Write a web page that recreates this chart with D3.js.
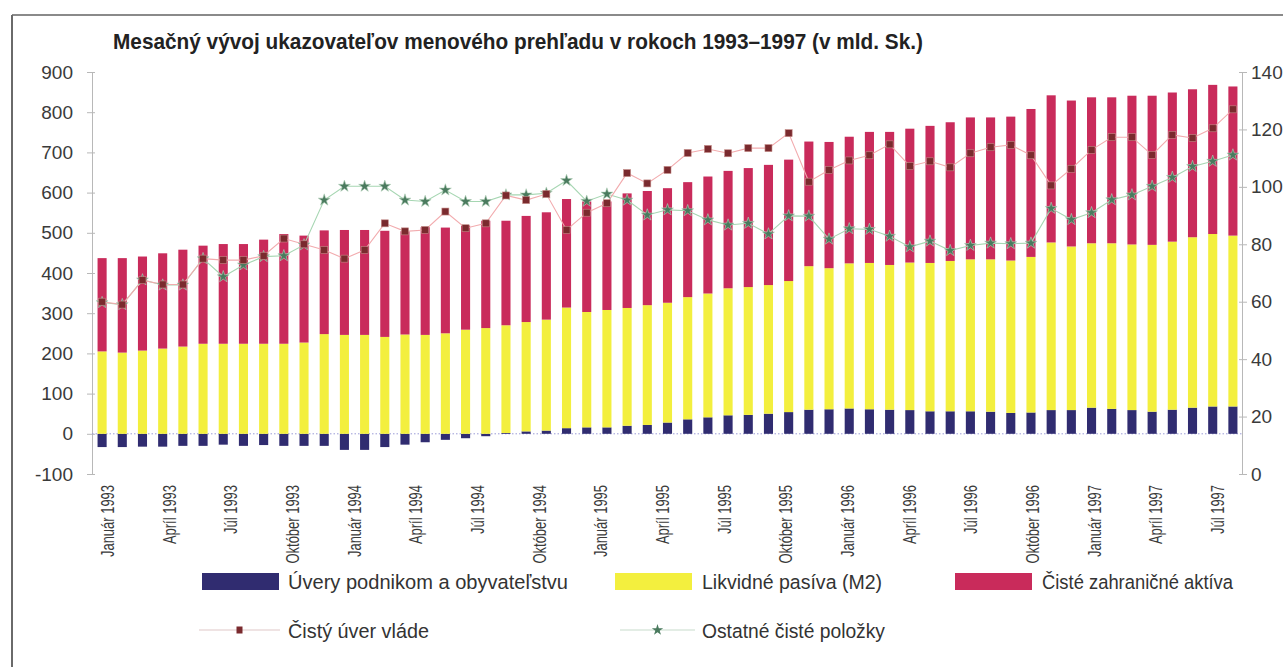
<!DOCTYPE html>
<html><head><meta charset="utf-8">
<script src="https://cdn.jsdelivr.net/npm/d3@7"></script>
<style>
body{margin:0;background:#fff}
svg{display:block}
text{font-family:"Liberation Sans",Arial,Helvetica,sans-serif;fill:#333}
</style>
</head><body>
<svg id="chart" width="1283" height="667"></svg>
<script>
// ---------- data ----------
const months = [
 "1/1993","2/1993","3/1993","4/1993","5/1993","6/1993","7/1993","8/1993","9/1993","10/1993","11/1993","12/1993",
 "1/1994","2/1994","3/1994","4/1994","5/1994","6/1994","7/1994","8/1994","9/1994","10/1994","11/1994","12/1994",
 "1/1995","2/1995","3/1995","4/1995","5/1995","6/1995","7/1995","8/1995","9/1995","10/1995","11/1995","12/1995",
 "1/1996","2/1996","3/1996","4/1996","5/1996","6/1996","7/1996","8/1996","9/1996","10/1996","11/1996","12/1996",
 "1/1997","2/1997","3/1997","4/1997","5/1997","6/1997","7/1997","8/1997","9/1997"
];
const tickLabels = [
 "Január 1993","Apríl 1993","Júl 1993","Október 1993",
 "Január 1994","Apríl 1994","Júl 1994","Október 1994",
 "Január 1995","Apríl 1995","Júl 1995","Október 1995",
 "Január 1996","Apríl 1996","Júl 1996","Október 1996",
 "Január 1997","Apríl 1997","Júl 1997"
];
const leftTicks = [-100,0,100,200,300,400,500,600,700,800,900];
const rightTicks = [0,20,40,60,80,100,120,140];

// Úvery podnikom a obyvateľstvu
const uvery = [-33,-33,-32,-32,-30,-30,-27,-30,-28,-30,-30,-30,
 -40,-40,-33,-27,-21,-15,-11,-6,2,6,8,14,
 16,16,20,22,28,36,41,46,47,50,54,60,
 61,63,61,60,59,56,56,56,55,52,53,59,
 59,65,62,59,55,60,65,68,68];
// Likvidné pasíva (M2)
const likvidne = [205,202,207,212,217,224,224,224,224,224,227,248,
 246,246,241,247,246,250,259,263,268,272,276,300,
 287,292,293,298,298,304,308,316,318,320,326,357,
 351,361,364,360,367,369,374,378,379,379,387,417,
 407,409,412,412,415,418,424,429,425];
// Čisté zahraničné aktíva
const ciste = [232,235,234,237,241,244,248,248,259,273,266,258,
 261,261,264,257,268,263,259,267,260,264,267,270,
 275,270,285,284,285,286,291,292,296,299,302,310,
 314,315,326,331,333,341,345,353,353,358,368,366,
 363,363,363,370,371,371,368,371,371];
// Čistý úver vláde (right axis)
const uverVlade = [60,59,67.5,66,66,75,74.5,74.5,76,82,80,78,
 75,78,87.3,84.5,85,91.4,85.6,87.3,97,95.4,97.5,85,
 91,94.3,104.8,101.2,105.9,111.8,113.2,111.7,113.5,113.5,118.7,101.8,
 105.9,109.2,111,114.8,107.2,108.9,106.8,111.7,113.8,114.6,111,100.5,
 106.3,112.9,117.3,117.3,111.1,118.1,117,120.4,127];
// Ostatné čisté položky (right axis)
const ostatne = [59.7,59,67.6,65.8,65.8,75,68.7,72.8,75.7,76,79.8,95.4,
 100.2,100.2,100.2,95.4,94.9,98.9,94.9,94.9,97.2,97.2,97.8,102.2,
 95,97.5,95.4,90.2,92,91.7,88.5,86.7,87.3,83.6,89.9,89.8,
 81.8,85.4,85.2,82.8,79.1,81.1,77.8,79.6,80.4,80.2,80.4,92.5,
 88.6,91,95.5,97.2,100.2,103.3,107.1,108.9,111.1];

const barKeys = ["uvery","likvidne","ciste"];
const barColors = {uvery:"#302c70", likvidne:"#f3ef3e", ciste:"#c92b5b"};
const legendBars = [
 {key:"uvery", label:"Úvery podnikom a obyvateľstvu"},
 {key:"likvidne", label:"Likvidné pasíva (M2)"},
 {key:"ciste", label:"Čisté zahraničné aktíva"}
];
const legendLines = [
 {key:"vlada", label:"Čistý úver vláde"},
 {key:"ost", label:"Ostatné čisté položky"}
];
const titleText = "Mesačný vývoj ukazovateľov menového prehľadu v rokoch 1993–1997 (v mld. Sk.)";

// ---------- build ----------
const rows = months.map((m,i)=>({month:m, uvery:uvery[i], likvidne:likvidne[i], ciste:ciste[i]}));
const svg = d3.select("#chart");

// frame
svg.append("line").attr("x1",12).attr("x2",1283).attr("y1",15).attr("y2",15).attr("stroke","#8a8a8a").attr("stroke-width",2);
svg.append("line").attr("x1",12).attr("x2",12).attr("y1",15).attr("y2",667).attr("stroke","#6a6a6a").attr("stroke-width",2);

const x = d3.scaleBand().domain(months).range([92,1243]).paddingInner(0.55).paddingOuter(0.275);
const yL = d3.scaleLinear().domain([-100,900]).range([474,72]);
const yR = d3.scaleLinear().domain([0,140]).range([474,72]);
const xLab = d3.scalePoint().domain(tickLabels).range([107,1217]);

// title
svg.append("text").attr("x",113).attr("y",49)
 .attr("font-size",21.5).attr("font-weight","bold").style("fill","#222")
 .attr("textLength",810).attr("lengthAdjust","spacingAndGlyphs")
 .text(titleText);

// axes
const axL = svg.append("g").attr("transform","translate(92,0)")
 .call(d3.axisLeft(yL).tickValues(leftTicks).tickFormat(d=>String(d)).tickSize(5).tickPadding(14));
const axR = svg.append("g").attr("transform","translate(1242,0)")
 .call(d3.axisRight(yR).tickValues(rightTicks).tickFormat(d=>String(d)).tickSize(5).tickPadding(4));
[axL,axR].forEach(a=>{
  a.select(".domain").attr("stroke","#b8b8b8");
  a.selectAll(".tick line").attr("stroke","#b8b8b8");
  a.selectAll(".tick text").attr("font-size",19).style("fill","#3a3a3a")
   .style("font-family",'"Liberation Sans",Arial,sans-serif');
});
axL.selectAll(".tick line").attr("x1",3);
axR.selectAll(".tick line").attr("x1",-3);

// zero line
svg.append("line").attr("x1",92).attr("x2",1242).attr("y1",yL(0)).attr("y2",yL(0))
 .attr("stroke","#9a9ad6").attr("stroke-width",1).attr("stroke-dasharray","1.5,2");

// bars
const stack = d3.stack().keys(barKeys).offset(d3.stackOffsetDiverging)(rows);
svg.append("g").selectAll("g").data(stack).join("g")
 .attr("fill",d=>barColors[d.key])
 .selectAll("rect").data(d=>d).join("rect")
 .attr("x",d=>x(d.data.month)).attr("width",x.bandwidth())
 .attr("y",d=>yL(Math.max(d[0],d[1]))).attr("height",d=>Math.abs(yL(d[0])-yL(d[1])));

// x labels
const axX = svg.append("g").attr("transform","translate(0,485)")
 .call(d3.axisBottom(xLab).tickSize(0));
axX.select(".domain").remove();
axX.selectAll(".tick text")
 .attr("x",0).attr("y",0).attr("dy","0.36em")
 .attr("text-anchor","end")
 .attr("transform","rotate(-90) scale(0.72,1)")
 .attr("font-size",18).style("fill","#3a3a3a")
 .style("font-family",'"Liberation Sans",Arial,sans-serif');

// lines
const cx = d=>x(d)+x.bandwidth()/2;
const lineV = d3.line().x((d,i)=>cx(months[i])).y(d=>yR(d));
svg.append("path").datum(ostatne).attr("d",lineV).attr("fill","none").attr("stroke","#a6d6b2").attr("stroke-width",1.1);
svg.append("path").datum(uverVlade).attr("d",lineV).attr("fill","none").attr("stroke","#f2abae").attr("stroke-width",1.1);

const star = d3.symbol(d3.symbolStar,44);
svg.append("g").selectAll("path").data(ostatne).join("path")
 .attr("d",star).attr("transform",(d,i)=>`translate(${cx(months[i])},${yR(d)})`)
 .attr("fill","#4a7a5e").attr("stroke","#b4d2ba").attr("stroke-width",0.6);
svg.append("g").selectAll("rect").data(uverVlade).join("rect")
 .attr("x",(d,i)=>cx(months[i])-3.5).attr("y",d=>yR(d)-3.5).attr("width",7).attr("height",7)
 .attr("fill","#7a2a2e").attr("stroke","#c48a86").attr("stroke-width",0.6);

// legend
const lbX = [202,615,955], ltX = [288,702,1042], ltW = [280,180,191];
const lg = svg.append("g");
legendBars.forEach((d,i)=>{
  lg.append("rect").attr("x",lbX[i]).attr("y",573).attr("width",77).attr("height",17).attr("fill",barColors[d.key]);
  lg.append("text").attr("x",ltX[i]).attr("y",589).attr("font-size",20.5)
   .attr("textLength",ltW[i]).attr("lengthAdjust","spacingAndGlyphs").style("fill","#333").text(d.label);
});
const llX = [[199,280],[620,695]], llT=[288,702], llW=[141,183];
legendLines.forEach((d,i)=>{
  const [a,b] = llX[i], m=(a+b)/2;
  lg.append("line").attr("x1",a).attr("x2",b).attr("y1",630).attr("y2",630)
   .attr("stroke", d.key==="vlada" ? "#e0c8c8" : "#c8dccc").attr("stroke-width",1.2);
  if(d.key==="vlada"){
    lg.append("rect").attr("x",m-3).attr("y",626.5).attr("width",6).attr("height",7).attr("fill","#7a2a2e");
  } else {
    lg.append("path").attr("d",d3.symbol(d3.symbolStar,40)).attr("transform",`translate(${m},630)`).attr("fill","#4a7a5e");
  }
  lg.append("text").attr("x",llT[i]).attr("y",638).attr("font-size",20.5)
   .attr("textLength",llW[i]).attr("lengthAdjust","spacingAndGlyphs").style("fill","#333").text(d.label);
});
</script>
</body></html>
